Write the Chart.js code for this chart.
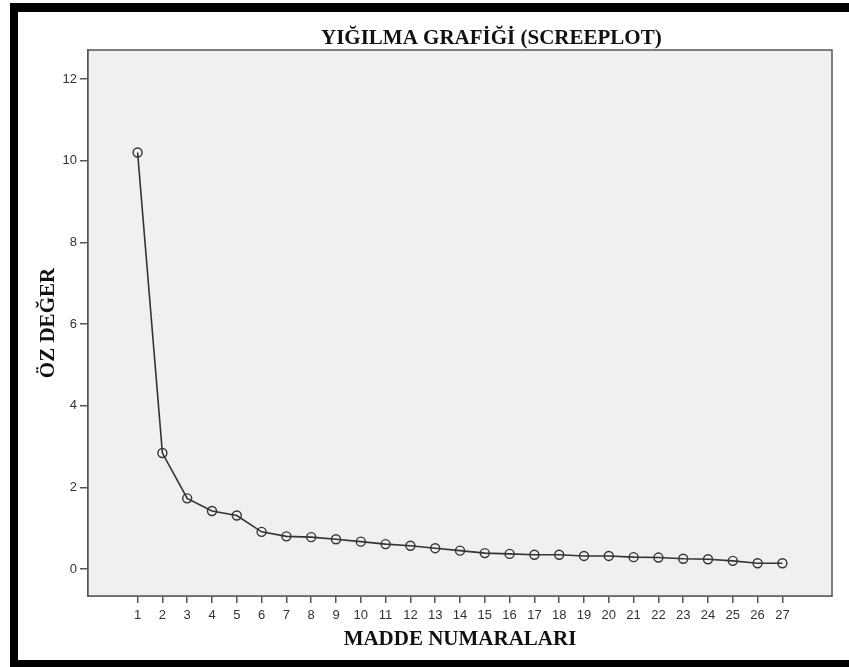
<!DOCTYPE html>
<html>
<head>
<meta charset="utf-8">
<script src="https://cdn.jsdelivr.net/npm/chart.js@4.4.1/dist/chart.umd.min.js"></script>
<style>
  html, body { margin: 0; padding: 0; background: #ffffff; }
  #c { display: block; }
</style>
</head>
<body>
<canvas id="c" width="849" height="667"></canvas>
<script>
// ---- data ----
const chartTitle = "YIĞILMA GRAFİĞİ (SCREEPLOT)";
const xTitle = "MADDE NUMARALARI";
const yTitle = "ÖZ DEĞER";
const items = [1,2,3,4,5,6,7,8,9,10,11,12,13,14,15,16,17,18,19,20,21,22,23,24,25,26,27];
const eigenvalues = [10.2, 2.84, 1.73, 1.42, 1.31, 0.91, 0.80, 0.78, 0.73, 0.67, 0.61, 0.57, 0.51, 0.45,
                     0.39, 0.37, 0.35, 0.35, 0.32, 0.32, 0.29, 0.28, 0.25, 0.24, 0.20, 0.14, 0.14];
const yTicks = [0, 2, 4, 6, 8, 10, 12];

const points = items.map((x, i) => ({ x: x, y: eigenvalues[i] }));

const framePlugin = {
  id: 'framePlugin',
  beforeDatasetsDraw(chart) {
    const { ctx, chartArea: a } = chart;
    ctx.save();
    ctx.fillStyle = '#f0f0f0';
    ctx.fillRect(a.left, a.top, a.right - a.left, a.bottom - a.top);
    ctx.restore();
  },
  afterDraw(chart) {
    const { ctx, chartArea: a } = chart;
    ctx.save();
    ctx.strokeStyle = '#555555';
    ctx.lineWidth = 1.5;
    ctx.strokeRect(a.left, a.top, a.right - a.left, a.bottom - a.top);
    // title
    ctx.fillStyle = '#111111';
    ctx.font = 'bold 21px "Liberation Serif", "Times New Roman", serif';
    ctx.textAlign = 'left';
    ctx.textBaseline = 'alphabetic';
    ctx.fillText(chartTitle, 321, 44);
    // outer black frame
    ctx.fillStyle = '#000000';
    ctx.fillRect(10, 3, 839, 9);
    ctx.fillRect(10, 3, 8, 664);
    ctx.fillRect(10, 660, 839, 7);
    ctx.restore();
  }
};

new Chart(document.getElementById('c'), {
  type: 'line',
  data: {
    datasets: [{
      data: points,
      borderColor: '#333333',
      borderWidth: 1.6,
      pointRadius: 4.5,
      pointBorderWidth: 1.4,
      pointBorderColor: '#333333',
      pointBackgroundColor: 'rgba(0,0,0,0)',
      tension: 0,
      fill: false
    }]
  },
  options: {
    responsive: false,
    devicePixelRatio: 1,
    animation: false,
    layout: { padding: { left: 0, top: 50, right: 17, bottom: 0 } },
    plugins: { legend: { display: false }, tooltip: { enabled: false }, title: { display: false } },
    scales: {
      x: {
        type: 'linear',
        min: -1, max: 29,
        afterBuildTicks(scale) { scale.ticks = items.map(v => ({ value: v })); },
        afterFit(scale) { scale.height = 71; },
        ticks: { autoSkip: false, maxRotation: 0, padding: 5, color: '#333333',
                 font: { family: '"Liberation Sans", Arial, sans-serif', size: 13 },
                 callback: v => String(v) },
        grid: { drawOnChartArea: false, drawTicks: true, tickLength: 7, color: '#555555', lineWidth: 1.5 },
        border: { display: true, color: '#555555', width: 1.5 },
        title: { display: true, text: xTitle, color: '#111111', padding: { top: 0, bottom: 15 },
                 font: { family: '"Liberation Serif", "Times New Roman", serif', size: 21, weight: 'bold', lineHeight: 1.2 } }
      },
      y: {
        type: 'linear',
        min: -0.661, max: 12.71,
        afterBuildTicks(scale) { scale.ticks = yTicks.map(v => ({ value: v })); },
        afterFit(scale) { scale.width = 88; },
        ticks: { padding: 3, color: '#333333',
                 font: { family: '"Liberation Sans", Arial, sans-serif', size: 13 },
                 callback: v => String(v) },
        grid: { drawOnChartArea: false, drawTicks: true, tickLength: 8, color: '#555555', lineWidth: 1.5 },
        border: { display: true, color: '#555555', width: 1.5 },
        title: { display: true, text: yTitle, color: '#111111', padding: { top: 36, bottom: 0 },
                 font: { family: '"Liberation Serif", "Times New Roman", serif', size: 21, weight: 'bold', lineHeight: 1.2 } }
      }
    }
  },
  plugins: [framePlugin]
});
</script>
</body>
</html>
